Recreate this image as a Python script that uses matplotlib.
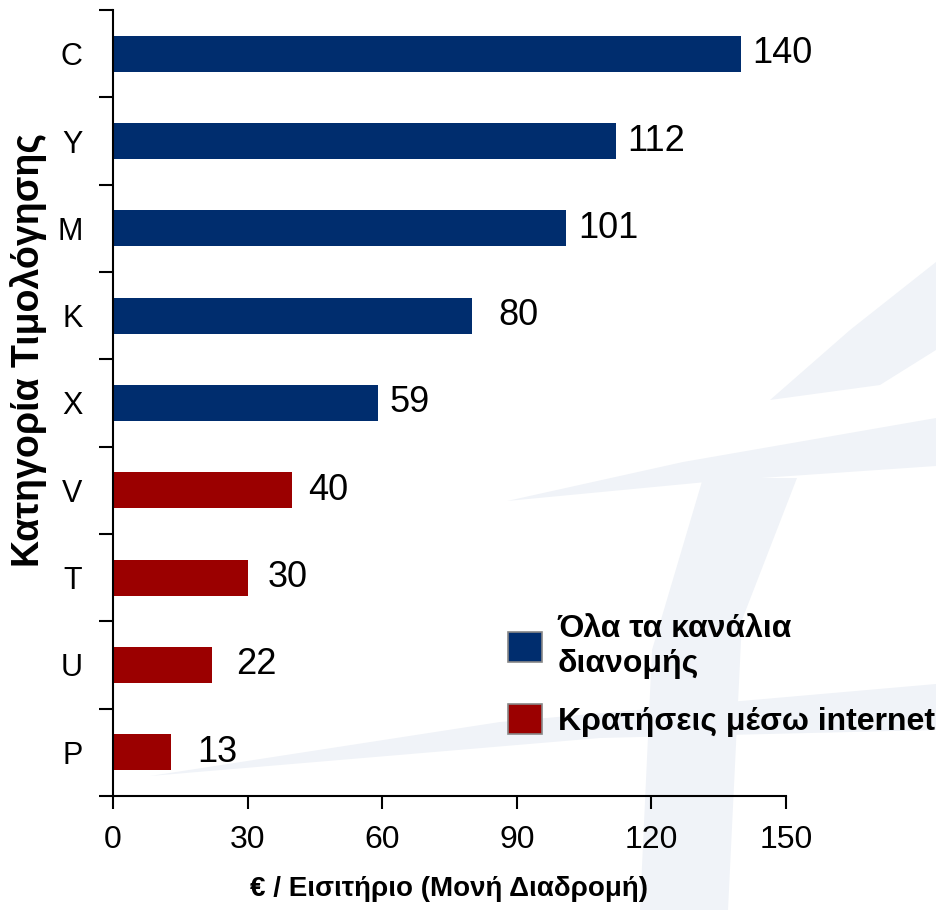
import matplotlib.pyplot as plt
import numpy as np
from matplotlib.patches import Patch, Polygon

# data, top to bottom as in the chart
categories = ["C", "Y", "M", "K", "X", "V", "T", "U", "P"]
values = [140, 112, 101, 80, 59, 40, 30, 22, 13]
series = ["all", "all", "all", "all", "all", "web", "web", "web", "web"]
series_labels = {"all": "Όλα τα κανάλια\nδιανομής", "web": "Κρατήσεις μέσω internet"}
x_ticks = [0, 30, 60, 90, 120, 150]

# gap between bar end and its number (pixels)
label_pad = [11, 12, 12, 26, 12, 16, 20, 24, 26]

colors = {"all": "#002D6E", "web": "#9B0000"}
W, H = 936, 910

plt.rcParams['font.family'] = ['Liberation Sans', 'DejaVu Sans']

fig = plt.figure(figsize=(W / 100, H / 100), dpi=100)

# faint logo swooshes in the background (image pixel coords)
swooshes = [
    [(770, 400), (850, 330), (936, 262), (936, 350), (880, 385)],
    [(507, 501), (683, 462), (936, 418), (936, 466), (717, 481)],
    [(703, 478), (797, 478), (742, 620), (728, 910), (640, 910), (652, 650)],
    [(150, 776), (500, 722), (936, 684), (936, 730), (600, 738)],
]
for pts in swooshes:
    poly = Polygon([(x / W, 1 - y / H) for x, y in pts], closed=True,
                   transform=fig.transFigure, facecolor="#F0F3F8",
                   edgecolor="none", zorder=-5)
    fig.patches.append(poly)

ax = fig.add_axes([113 / W, 1 - 796 / H, (786 - 113) / W, (796 - 10) / H])
ax.patch.set_alpha(0)
ax.set_zorder(2)

n = len(categories)
ypos = np.arange(n)[::-1]
bar_colors = [colors[s] for s in series]
ax.barh(ypos, values, height=0.41, color=bar_colors, zorder=2)

for y, v, pad in zip(ypos, values, label_pad):
    ax.annotate(str(v), (v, y), xytext=(pad * 0.72, 0), textcoords="offset points",
                ha="left", va="center", fontsize=26)

ax.set_xlim(0, 150)
ax.set_ylim(-0.5, n - 0.5)

ax.set_xticks(x_ticks)
ax.set_xticklabels([str(t) for t in x_ticks], fontsize=23)
ax.tick_params(axis="x", direction="out", length=9, width=1.5, pad=12)

# ticks between categories, labels at category centres
ax.set_yticks(np.arange(n + 1) - 0.5)
ax.set_yticklabels([])
ax.set_yticks(ypos, minor=True)
ax.set_yticklabels(categories, minor=True, fontsize=22)
ax.tick_params(axis="y", which="major", direction="out", length=10, width=1.5)
ax.tick_params(axis="y", which="minor", length=0, pad=22)

for side in ["top", "right"]:
    ax.spines[side].set_visible(False)
for side in ["left", "bottom"]:
    ax.spines[side].set_linewidth(1.5)

ax.set_ylabel("Κατηγορία Τιμολόγησης", fontsize=27, fontweight="bold")
ax.yaxis.set_label_coords(-0.098, 0.567)
ax.set_xlabel("€ / Εισιτήριο (Μονή Διαδρομή)", fontsize=20, fontweight="bold", labelpad=15)

handles = [Patch(facecolor=colors[k], edgecolor="#888888", linewidth=1.2) for k in ["all", "web"]]
leg = fig.legend(handles, [series_labels["all"], series_labels["web"]],
                 loc="upper left", bbox_to_anchor=(508 / W, 1 - 614 / H),
                 frameon=False, borderpad=0, borderaxespad=0,
                 handlelength=1.05, handleheight=1.05, handletextpad=0.5,
                 labelspacing=0.8, prop={"size": 23, "weight": "bold"})

fig.savefig("out.png", dpi=100)
